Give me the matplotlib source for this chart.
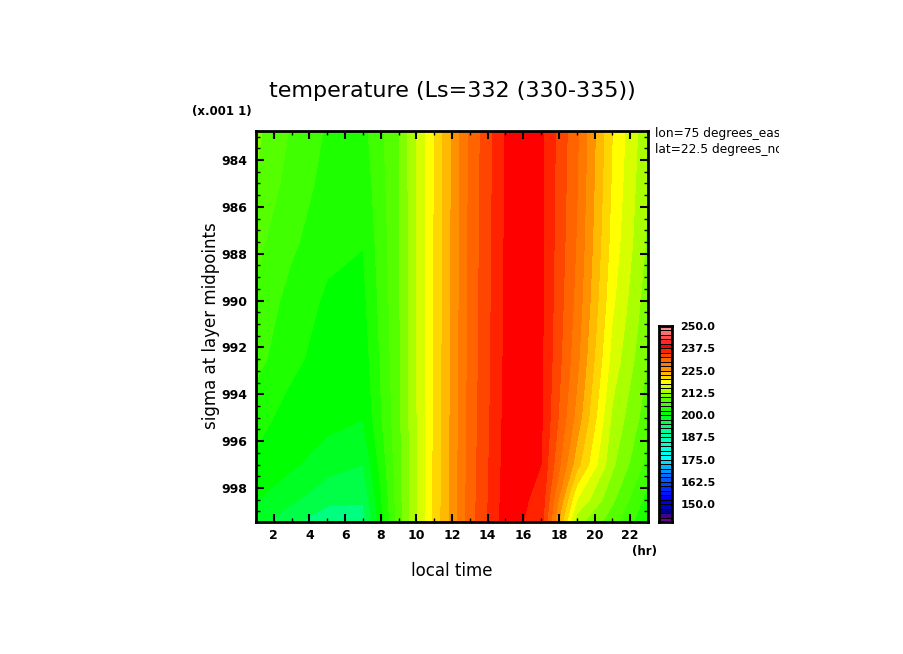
import numpy as np
import matplotlib
matplotlib.use("Agg")
import matplotlib.pyplot as plt
from matplotlib.colors import ListedColormap, BoundaryNorm
from matplotlib.transforms import Bbox

# -----------------------------
# Data
# -----------------------------
local_time = [1, 3, 5, 7, 9, 11, 13, 15, 17, 19, 21, 23]
sigma = [982.75, 985, 987.5, 990, 992.5, 995, 997, 998.5, 999.45]

t_982 = [210.6, 207.2, 204.7, 204.2, 209.8, 220.0, 230.4, 237.6, 238.0, 230.5, 220.0, 213.0]
t_985 = [209.8, 206.4, 204.2, 203.4, 209.8, 220.0, 230.5, 237.7, 238.0, 230.2, 219.6, 212.5]
t_987 = [208.2, 205.5, 203.2, 202.6, 209.7, 220.1, 230.6, 237.8, 238.0, 229.8, 219.0, 212.0]
t_990 = [207.0, 204.0, 202.1, 201.8, 209.6, 220.1, 230.7, 237.9, 238.0, 229.2, 218.0, 211.0]
t_992 = [205.8, 203.2, 201.2, 201.0, 209.5, 220.2, 230.8, 238.0, 238.0, 228.3, 216.5, 210.0]
t_995 = [203.6, 201.3, 200.9, 200.1, 209.3, 220.3, 230.9, 238.2, 237.9, 226.6, 214.5, 208.5]
t_997 = [201.9, 200.4, 198.6, 197.5, 209.1, 220.4, 231.1, 238.4, 237.5, 223.5, 213.0, 206.5]
t_998 = [200.1, 198.0, 195.6, 195.3, 208.9, 220.4, 231.2, 238.6, 236.9, 217.5, 210.5, 204.0]
t_999 = [198.5, 195.4, 193.5, 193.8, 208.7, 220.5, 231.3, 238.8, 236.2, 213.5, 208.5, 202.5]

levels = np.arange(140, 252.5, 2.5)
bar_ticks = [150, 162.5, 175, 187.5, 200, 212.5, 225, 237.5, 250]

# -----------------------------
# Colours, one per 2.5 band
# -----------------------------
idx = [0, 1, 2, 3, 5, 10, 14, 20, 21, 22, 23, 24, 25, 26, 27, 28, 29, 30, 31,
       32, 33, 34, 35, 36, 37, 38, 39, 40, 41, 42, 43]
reds = [110, 70, 0, 0, 0, 0, 0, 0, 0, 0, 0, 0, 30, 64, 85, 128, 170, 215, 255,
        255, 255, 255, 255, 255, 255, 255, 255, 255, 255, 255, 255]
greens = [0, 0, 0, 0, 0, 110, 255, 255, 255, 255, 255, 255, 255, 255, 255, 255, 255, 255, 255,
          215, 185, 145, 120, 100, 70, 35, 0, 40, 75, 110, 140]
blues = [160, 140, 140, 190, 255, 255, 255, 150, 128, 70, 35, 0, 0, 0, 0, 0, 0, 0, 0,
         0, 0, 0, 0, 0, 0, 0, 0, 40, 75, 110, 140]
bands = np.arange(len(levels) - 1)
colors = np.column_stack([np.interp(bands, idx, reds),
                          np.interp(bands, idx, greens),
                          np.interp(bands, idx, blues)]) / 255
cmap = ListedColormap(colors)
norm = BoundaryNorm(levels, cmap.N)

# -----------------------------
# Plot
# -----------------------------
W, H = 904, 654
fig = plt.figure(figsize=(W / 100, H / 100), dpi=100)


def px_axes(x0, y0, x1, y1):
    return fig.add_axes([x0 / W, 1 - y1 / H, (x1 - x0) / W, (y1 - y0) / H])


def px_text(x, y, s, **kw):
    return fig.text(x / W, 1 - y / H, s, ha=kw.pop("ha", "center"), va="center", **kw)


temp = np.array([t_982, t_985, t_987, t_990, t_992, t_995, t_997, t_998, t_999])

ax = px_axes(256, 131, 648, 522)
ax.contourf(local_time, sigma, temp, levels=levels, cmap=cmap, norm=norm)
ax.set_xlim(1, 23)
ax.set_ylim(999.45, 982.76)

ax.set_xticks(np.arange(2, 24, 2))
ax.set_xticks(np.arange(1, 24, 1), minor=True)
ax.set_yticks(np.arange(984, 1000, 2))
ax.set_yticks(np.arange(983, 999.5, 0.5), minor=True)
ax.tick_params(which="major", direction="in", length=6, width=1.5, top=True, right=True,
               labelsize=9)
ax.tick_params(axis="x", which="major", pad=5)
ax.tick_params(axis="y", which="major", pad=6)
ax.tick_params(which="minor", direction="in", length=3, width=1, top=True, right=True)
for lab in ax.get_xticklabels() + ax.get_yticklabels():
    lab.set_fontweight("bold")
for s in ax.spines.values():
    s.set_linewidth(2)

# colour bar
cax = px_axes(659, 326, 672, 522)
for i in bands:
    cax.bar(0.5, levels[i + 1] - levels[i], bottom=levels[i], width=1,
            color=colors[i], edgecolor="black", linewidth=0.7)
cax.set_xlim(0, 1)
cax.set_ylim(140, 250)
cax.set_xticks([])
cax.set_yticks(bar_ticks)
cax.set_yticklabels(["%.1f" % v for v in bar_ticks], fontweight="bold", fontsize=8)
cax.yaxis.tick_right()
cax.tick_params(axis="y", length=0, pad=6)
for s in cax.spines.values():
    s.set_linewidth(2)

px_text(452, 91, "temperature (Ls=332 (330-335))", fontsize=16)
px_text(222, 111, "(x.001 1)", fontsize=8.5, fontweight="bold")
px_text(645, 551, "(hr)", fontsize=8.5, fontweight="bold")
px_text(452, 571, "local time", fontsize=12)
px_text(211, 326, "sigma at layer midpoints", fontsize=12, rotation=90)

clip = Bbox([[650, 0], [779, H]])
for y, s in [(134, "lon=75 degrees_east"), (149, "lat=22.5 degrees_north")]:
    t = px_text(655, y, s, fontsize=8.8, ha="left")
    t.set_clip_box(clip)
    t.set_clip_on(True)

fig.savefig("out.png", dpi=100)
